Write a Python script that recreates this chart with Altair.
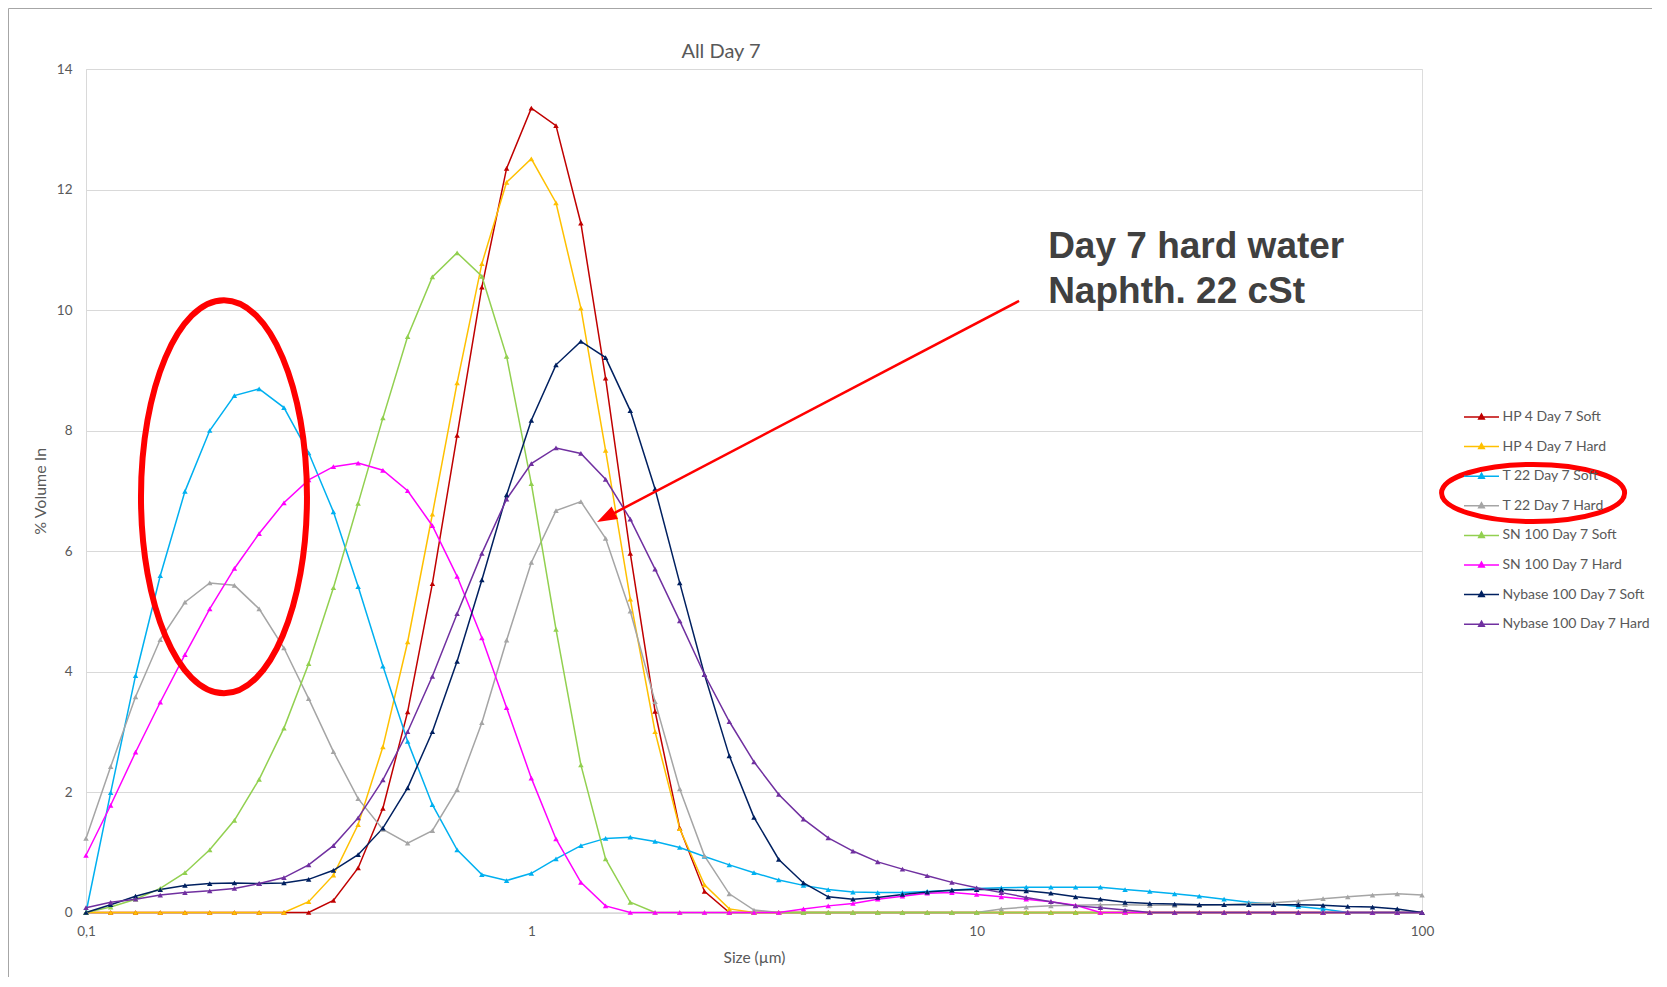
import altair as alt
import pandas as pd

# ---------------- data ----------------
sizes = [0.1, 0.1136, 0.1292, 0.1468, 0.1668, 0.1896, 0.2154, 0.2448, 0.2783, 0.3162,
         0.3594, 0.4084, 0.4642, 0.5275, 0.5995, 0.6813, 0.7743, 0.8799, 1.0, 1.136,
         1.292, 1.468, 1.668, 1.896, 2.154, 2.448, 2.783, 3.162, 3.594, 4.084,
         4.642, 5.275, 5.995, 6.813, 7.743, 8.799, 10.0, 11.36, 12.92, 14.68,
         16.68, 18.96, 21.54, 24.48, 27.83, 31.62, 35.94, 40.84, 46.42, 52.75,
         59.95, 68.13, 77.43, 87.99, 100.0]

hp4_soft = [0, 0, 0, 0, 0, 0, 0, 0, 0, 0,
            0.20, 0.74, 1.73, 3.33, 5.46, 7.92, 10.38, 12.35, 13.35, 13.06,
            11.44, 8.87, 5.96, 3.34, 1.40, 0.35, 0, 0, 0, 0,
            0, 0, 0, 0, 0, 0, 0, 0, 0, 0,
            0, 0, 0, 0, 0, 0, 0, 0, 0, 0,
            0, 0, 0, 0, 0]
hp4_hard = [0, 0, 0, 0, 0, 0, 0, 0, 0, 0.18,
            0.62, 1.46, 2.75, 4.49, 6.61, 8.79, 10.77, 12.12, 12.51, 11.78,
            10.03, 7.67, 5.20, 3.00, 1.39, 0.46, 0.06, 0, 0, 0,
            0, 0, 0, 0, 0, 0, 0, 0, 0, 0,
            0, 0, 0, 0, 0, 0, 0, 0, 0, 0,
            0, 0, 0, 0, 0]
t22_soft = [0, 1.99, 3.93, 5.59, 6.99, 8.00, 8.58, 8.69, 8.38, 7.63,
            6.65, 5.41, 4.09, 2.84, 1.79, 1.04, 0.63, 0.53, 0.65, 0.89,
            1.11, 1.23, 1.25, 1.18, 1.08, 0.93, 0.79, 0.66, 0.54, 0.45,
            0.38, 0.34, 0.33, 0.33, 0.35, 0.37, 0.40, 0.41, 0.42, 0.42,
            0.42, 0.42, 0.38, 0.35, 0.31, 0.27, 0.22, 0.17, 0.14, 0.10,
            0.06, 0, 0, 0, 0]
t22_hard = [1.23, 2.42, 3.58, 4.53, 5.15, 5.47, 5.43, 5.04, 4.39, 3.55,
            2.67, 1.89, 1.38, 1.15, 1.36, 2.04, 3.15, 4.52, 5.81, 6.67,
            6.82, 6.21, 5.00, 3.50, 2.05, 0.94, 0.31, 0.04, 0, 0,
            0, 0, 0, 0, 0, 0, 0, 0.06, 0.09, 0.11,
            0.12, 0.13, 0.13, 0.12, 0.12, 0.12, 0.13, 0.15, 0.16, 0.19,
            0.23, 0.26, 0.29, 0.31, 0.29]
sn100_soft = [0, 0.09, 0.22, 0.40, 0.66, 1.04, 1.53, 2.21, 3.06, 4.13,
              5.39, 6.79, 8.21, 9.56, 10.55, 10.95, 10.56, 9.23, 7.12, 4.70,
              2.45, 0.89, 0.17, 0, 0, 0, 0, 0, 0, 0,
              0, 0, 0, 0, 0, 0, 0, 0, 0, 0,
              0, 0, 0, 0, 0, 0, 0, 0, 0, 0,
              0, 0, 0, 0, 0]
sn100_hard = [0.95, 1.78, 2.66, 3.49, 4.28, 5.04, 5.71, 6.29, 6.80, 7.18,
              7.40, 7.46, 7.34, 7.00, 6.42, 5.58, 4.56, 3.40, 2.23, 1.22,
              0.50, 0.11, 0, 0, 0, 0, 0, 0, 0, 0.06,
              0.11, 0.15, 0.22, 0.27, 0.32, 0.33, 0.30, 0.26, 0.22, 0.18,
              0.12, 0, 0, 0, 0, 0, 0, 0, 0, 0,
              0, 0, 0, 0, 0]
nyb_soft = [0, 0.13, 0.27, 0.38, 0.45, 0.48, 0.49, 0.48, 0.49, 0.55,
            0.70, 0.96, 1.40, 2.07, 3.00, 4.17, 5.52, 6.93, 8.17, 9.09,
            9.48, 9.21, 8.33, 7.03, 5.47, 3.95, 2.60, 1.58, 0.88, 0.49,
            0.26, 0.22, 0.25, 0.30, 0.34, 0.37, 0.38, 0.38, 0.36, 0.32,
            0.26, 0.22, 0.17, 0.15, 0.14, 0.13, 0.13, 0.13, 0.13, 0.13,
            0.12, 0.10, 0.09, 0.06, 0]
nyb_hard = [0.08, 0.17, 0.22, 0.29, 0.33, 0.36, 0.40, 0.48, 0.58, 0.79,
            1.11, 1.57, 2.20, 3.00, 3.92, 4.96, 5.96, 6.86, 7.45, 7.71,
            7.62, 7.19, 6.53, 5.70, 4.84, 3.95, 3.17, 2.50, 1.96, 1.55,
            1.24, 1.02, 0.84, 0.72, 0.61, 0.50, 0.41, 0.33, 0.25, 0.18,
            0.11, 0.08, 0.04, 0, 0, 0, 0, 0, 0, 0,
            0, 0, 0, 0, 0]

series_names = ["HP 4 Day 7 Soft", "HP 4 Day 7 Hard", "T 22 Day 7 Soft", "T 22 Day 7 Hard",
                "SN 100 Day 7 Soft", "SN 100 Day 7 Hard", "Nybase 100 Day 7 Soft",
                "Nybase 100 Day 7 Hard"]
series_values = [hp4_soft, hp4_hard, t22_soft, t22_hard, sn100_soft, sn100_hard,
                 nyb_soft, nyb_hard]
series_colors = ["#C00000", "#FFC000", "#00B0F0", "#A5A5A5", "#92D050", "#FF00FF",
                 "#002060", "#7030A0"]

x_ticks = [0.1, 1, 10, 100]
y_ticks = [0, 2, 4, 6, 8, 10, 12, 14]

chart_title = "All Day 7"

# annotations (data coordinates)
note_lines = ["Day 7 hard water", "Naphth. 22 cSt"]
note_x = [14.47, 14.47]
note_y = [10.86, 10.12]
arrow_from = (12.45, 10.15)
arrow_line_end = (1.471, 6.557)
arrow_tip = (1.405, 6.48)
big_ellipse_center = (0.2041, 6.9)
legend_ellipse_center = (177.6, 6.963)

rows = []
for name, vals in zip(series_names, series_values):
    for s, v in zip(sizes, vals):
        rows.append({"series": name, "size": s, "value": v})
df = pd.DataFrame(rows)

FONT = "Lato"
GREY_TXT = "#595959"
GRID = "#D9D9D9"

xscale = alt.Scale(type="log", domain=[0.1, 100], nice=False)
yscale = alt.Scale(domain=[0, 14], nice=False)

xaxis = alt.Axis(values=x_ticks, grid=False, ticks=False, domainColor=GRID, domainWidth=1,
                 labelExpr="replace(format(datum.value, '~g'), '.', ',')", labelFlush=False,
                 labelFont=FONT, labelFontSize=13.5, labelColor=GREY_TXT, labelPadding=12,
                 title="Size (µm)", titleFont=FONT, titleFontSize=15.5, titleColor=GREY_TXT,
                 titleFontWeight="normal", titleX=668, titleY=45, titleBaseline="middle",
                 titleAlign="center")
yaxis = alt.Axis(values=y_ticks, format="d", grid=True, gridColor=GRID, gridWidth=1,
                 ticks=False, domainColor=GRID, domainWidth=1,
                 labelFont=FONT, labelFontSize=13.5, labelColor=GREY_TXT, labelPadding=14,
                 title="% Volume In", titleFont=FONT, titleFontSize=16, titleColor=GREY_TXT,
                 titleFontWeight="normal", titleX=-46, titleY=421.75, titleAngle=270,
                 titleBaseline="middle", titleAlign="center")

X = alt.X("size:Q", scale=xscale, axis=xaxis)
Y = alt.Y("value:Q", scale=yscale, axis=yaxis)

LEG_SYMBOL = "M -1.75 0 L 1.75 0 M 0 -0.3 L 0.28 0.2 L -0.28 0.2 Z"
legend = alt.Legend(title=None, orient="none", legendX=1384.5, legendY=337, padding=0,
                    symbolType=LEG_SYMBOL, symbolSize=400, symbolStrokeWidth=1.5,
                    labelFont=FONT, labelFontSize=14, labelColor=GREY_TXT,
                    labelOffset=10, rowPadding=11.6, labelLimit=300)
cscale = alt.Scale(domain=series_names, range=series_colors)

base = alt.Chart(df)
lines = base.mark_line(strokeWidth=1.5).encode(
    x=X, y=Y, stroke=alt.Stroke("series:N", scale=cscale, legend=legend, sort=series_names))
points = base.mark_point(shape="triangle-up", filled=True, size=30, opacity=1).encode(
    x=X, y=Y, fill=alt.Fill("series:N", scale=cscale, legend=legend, sort=series_names))

# ellipses drawn as custom symbol paths at a data point
k = 0.5523
a1 = 0.4224
a1k = round(a1 * k, 4)
ELL1 = (f"M 0 -1 C {a1k} -1 {a1} -{k} {a1} 0 C {a1} {k} {a1k} 1 0 1 "
        f"C -{a1k} 1 -{a1} {k} -{a1} 0 C -{a1} -{k} -{a1k} -1 0 -1 Z")
a2 = 3.2
a2k = round(a2 * k, 4)
ELL2 = (f"M 0 -1 C {a2k} -1 {a2} -{k} {a2} 0 C {a2} {k} {a2k} 1 0 1 "
        f"C -{a2k} 1 -{a2} {k} -{a2} 0 C -{a2} -{k} -{a2k} -1 0 -1 Z")

ell1 = alt.Chart(pd.DataFrame({"size": [big_ellipse_center[0]], "value": [big_ellipse_center[1]]})
                 ).mark_point(shape=ELL1, size=154449, filled=False, color="#FF0000",
                              strokeWidth=6, opacity=1).encode(x=X, y=Y)
ell2 = alt.Chart(pd.DataFrame({"size": [legend_ellipse_center[0]], "value": [legend_ellipse_center[1]]})
                 ).mark_point(shape=ELL2, size=3272, filled=False, color="#FF0000",
                              strokeWidth=5, opacity=1).encode(x=X, y=Y)

arrow = alt.Chart(pd.DataFrame({"size": [arrow_from[0]], "value": [arrow_from[1]],
                                "size2": [arrow_line_end[0]], "value2": [arrow_line_end[1]]})
                  ).mark_rule(color="#FF0000", strokeWidth=2.5).encode(
    x=X, y=Y, x2="size2:Q", y2="value2:Q")
HEAD = "M 0 0 L 0.7 2 L -0.7 2 Z"
head = alt.Chart(pd.DataFrame({"size": [arrow_tip[0]], "value": [arrow_tip[1]]})
                 ).mark_point(shape=HEAD, size=400, filled=True, color="#FF0000", opacity=1,
                              angle=242.4).encode(x=X, y=Y)

note = alt.Chart(pd.DataFrame({"size": note_x, "value": note_y, "t": note_lines})
                 ).mark_text(align="left", baseline="alphabetic", font="Liberation Sans",
                             fontSize=37, fontWeight="bold", color="#404040").encode(
    x=X, y=Y, text="t:N")

one = pd.DataFrame({"t": [chart_title]})
title_mark = alt.Chart(one).mark_text(align="center", baseline="alphabetic", font=FONT,
                                      fontSize=20, color=GREY_TXT).encode(
    x=alt.value(635), y=alt.value(-11), text="t:N")

frame_left = alt.Chart(one).mark_rule(color="#A6A6A6", strokeWidth=1).encode(
    x=alt.value(-77.5), y=alt.value(-60.5), y2=alt.value(909))
frame_top = alt.Chart(one).mark_rule(color="#A6A6A6", strokeWidth=1).encode(
    x=alt.value(-77.5), x2=alt.value(1566), y=alt.value(-60.5))

chart = alt.layer(frame_left, frame_top, title_mark, lines, points, ell1, ell2, arrow, head,
                  note).properties(
    width=1336, height=843.5,
    autosize=alt.AutoSizeParams(type="none"),
    padding={"left": 78, "top": 61, "right": 230, "bottom": 64},
).configure_view(stroke=None).configure(background="white")

chart.save("out.html", embed_options={"renderer": "svg", "actions": False})
